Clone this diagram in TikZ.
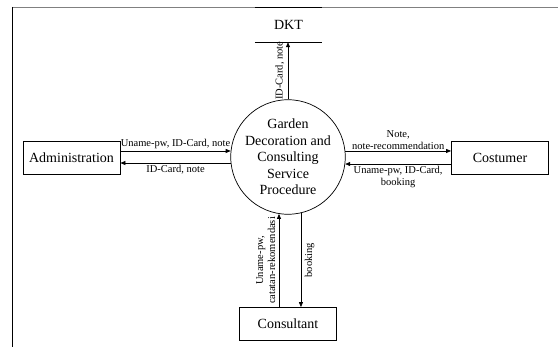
\documentclass[tikz,border=0pt]{standalone}
\usepackage{fontspec}
\setmainfont{Liberation Serif}
\usetikzlibrary{positioning,arrows.meta}

\begin{document}
\begin{tikzpicture}[
        x=1pt, y=-1pt,
        entity/.style={draw, line width=0.8pt, minimum width=97pt, minimum height=33pt, inner sep=0pt, font=\fontsize{14}{16.5}\selectfont},
        process/.style={draw, circle, line width=0.7pt, minimum size=98pt, inner sep=0pt, align=center, font=\fontsize{14}{16.5}\selectfont},
        store/.style={minimum width=67pt, minimum height=34pt, inner sep=0pt, font=\fontsize{14}{16.5}\selectfont},
        flow/.style={-{Triangle[length=5pt,width=4pt]}, line width=0.7pt},
        lbl/.style={font=\fontsize{10.5}{12}\selectfont, inner sep=1.5pt, align=center},
        vlbl/.style={lbl, rotate=90, inner sep=3.5pt}
    ]
        \useasboundingbox (0,0) rectangle (558,347);
        % frame
        \draw[gray, line width=0.8pt] (12,7) -- (558,7);
        \draw[line width=0.8pt] (12,7) -- (12,347);

        \node[process] (proc) at (288,157) {Garden\\Decoration and\\Consulting\\Service\\Procedure};
        \node[entity] (adm) at (71.5,157.5) {Administration};
        \node[entity] (cos) at (500,157.5) {Costumer};
        \node[entity] (con) at (288,324) {Consultant};
        \node[store] (dkt) at (288.5,25) {DKT};
        \draw[line width=0.8pt] (dkt.north west) -- (dkt.north east);
        \draw[line width=0.8pt] (dkt.south west) -- (dkt.south east);

        % flows
        \draw[flow] (proc.north) -- (proc.north |- dkt.south) node[vlbl, midway, anchor=south] {ID-Card, note};
        \draw[flow] (proc.174 -| adm.east) -- (proc.174) node[lbl, midway, above] {Uname-pw, ID-Card, note};
        \draw[flow] (proc.186) -- (proc.186 -| adm.east) node[lbl, midway, below] {ID-Card, note};
        \draw[flow] (proc.6) -- (proc.6 -| cos.west) node[lbl, midway, above] {Note,\\note-recommendation};
        \draw[flow] (proc.353 -| cos.west) -- (proc.353) node[lbl, midway, below] {Uname-pw, ID-Card,\\booking};
        \draw[flow] (proc.261 |- con.north) -- (proc.261) node[vlbl, midway, anchor=south] {Uname-pw,\\catatan-rekomendasi};
        \draw[flow] (proc.283) -- (proc.283 |- con.north) node[vlbl, midway, anchor=north] {booking};
    \end{tikzpicture}
\end{document}
